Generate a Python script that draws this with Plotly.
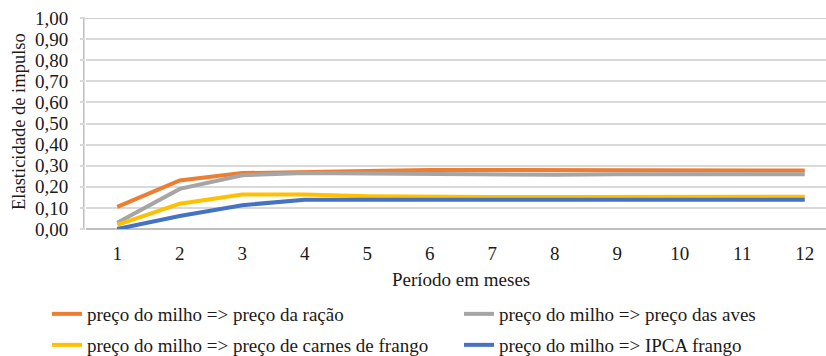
import plotly.graph_objects as go

periods = [1, 2, 3, 4, 5, 6, 7, 8, 9, 10, 11, 12]
racao = [0.105, 0.23, 0.265, 0.272, 0.275, 0.28, 0.28, 0.277, 0.277, 0.277, 0.277, 0.277]
aves = [0.03, 0.19, 0.255, 0.265, 0.263, 0.26, 0.257, 0.257, 0.259, 0.259, 0.259, 0.259]
carnes = [0.02, 0.12, 0.163, 0.163, 0.155, 0.152, 0.152, 0.152, 0.152, 0.155, 0.154, 0.153]
ipca = [0.0, 0.062, 0.113, 0.139, 0.139, 0.139, 0.139, 0.139, 0.139, 0.139, 0.139, 0.139]
y_ticks = [0, 0.1, 0.2, 0.3, 0.4, 0.5, 0.6, 0.7, 0.8, 0.9, 1.0]
y_labels = ["0,00", "0,10", "0,20", "0,30", "0,40", "0,50", "0,60", "0,70", "0,80", "0,90", "1,00"]

series = [
    ("preço do milho => preço da ração", racao, "#ED7D31", "legend"),
    ("preço do milho => preço das aves", aves, "#A5A5A5", "legend2"),
    ("preço do milho => preço de carnes de frango", carnes, "#FFC000", "legend3"),
    ("preço do milho => IPCA frango", ipca, "#4472C4", "legend4"),
]

font = "Times New Roman"
txt = "#1a1a1a"

fig = go.Figure()
for name, vals, color, lg in series:
    fig.add_trace(go.Scatter(x=periods, y=vals, mode="lines", name=name, legend=lg,
                             line=dict(color=color, width=4)))

leg_common = dict(orientation="h", xref="container", yref="container",
                  xanchor="left", yanchor="middle", traceorder="normal",
                  font=dict(family=font, size=19, color=txt), itemwidth=30,
                  bgcolor="rgba(0,0,0,0)", borderwidth=0)

fig.update_layout(
    width=826, height=356,
    margin=dict(l=86, r=0, t=18, b=127, autoexpand=False),
    paper_bgcolor="white", plot_bgcolor="white",
    font=dict(family=font, size=19, color=txt),
    showlegend=True,
    legend=dict(x=47 / 826, y=1 - 314 / 356, **leg_common),
    legend2=dict(x=459 / 826, y=1 - 314 / 356, **leg_common),
    legend3=dict(x=47 / 826, y=1 - 345 / 356, **leg_common),
    legend4=dict(x=459 / 826, y=1 - 345 / 356, **leg_common),
)
fig.update_xaxes(range=[0.5, 12.34], tickvals=periods, ticktext=[str(p) for p in periods],
                 showgrid=False, zeroline=False, showline=False, ticks="",
                 automargin=False, ticklabelstandoff=11,
                 tickfont=dict(family=font, size=19, color=txt))
fig.update_yaxes(range=[0, 1.0], tickvals=y_ticks, ticktext=y_labels,
                 showgrid=True, gridcolor="#D9D9D9", gridwidth=1.5,
                 zeroline=True, zerolinecolor="#BFBFBF", zerolinewidth=1.5,
                 showline=False, ticks="outside", ticklen=5, tickcolor="#D9D9D9", tickwidth=1.5,
                 automargin=False, ticklabelstandoff=8,
                 tickfont=dict(family=font, size=19, color=txt))
fig.add_shape(type="line", xref="paper", yref="y", x0=-0.003, x1=1, y0=1, y1=1,
              line=dict(color="#BFBFBF", width=1.5), layer="below")
fig.add_shape(type="line", xref="paper", yref="paper", x0=-0.003, x1=-0.003, y0=0, y1=1,
              line=dict(color="#BFBFBF", width=1.5), layer="below")
fig.add_annotation(text="Período em meses", xref="paper", yref="paper",
                   x=(461 - 86) / 740, y=-(279 - 229) / 211, showarrow=False,
                   xanchor="center", yanchor="middle",
                   font=dict(family=font, size=19, color=txt))
fig.add_annotation(text="Elasticidade de impulso", xref="paper", yref="paper",
                   x=-(86 - 19) / 740, y=(229 - 122) / 211, showarrow=False, textangle=-90,
                   xanchor="center", yanchor="middle",
                   font=dict(family=font, size=18.5, color=txt))

fig.write_html("out.html", config={"displayModeBar": False},
               post_script="document.body.style.margin='0';")
